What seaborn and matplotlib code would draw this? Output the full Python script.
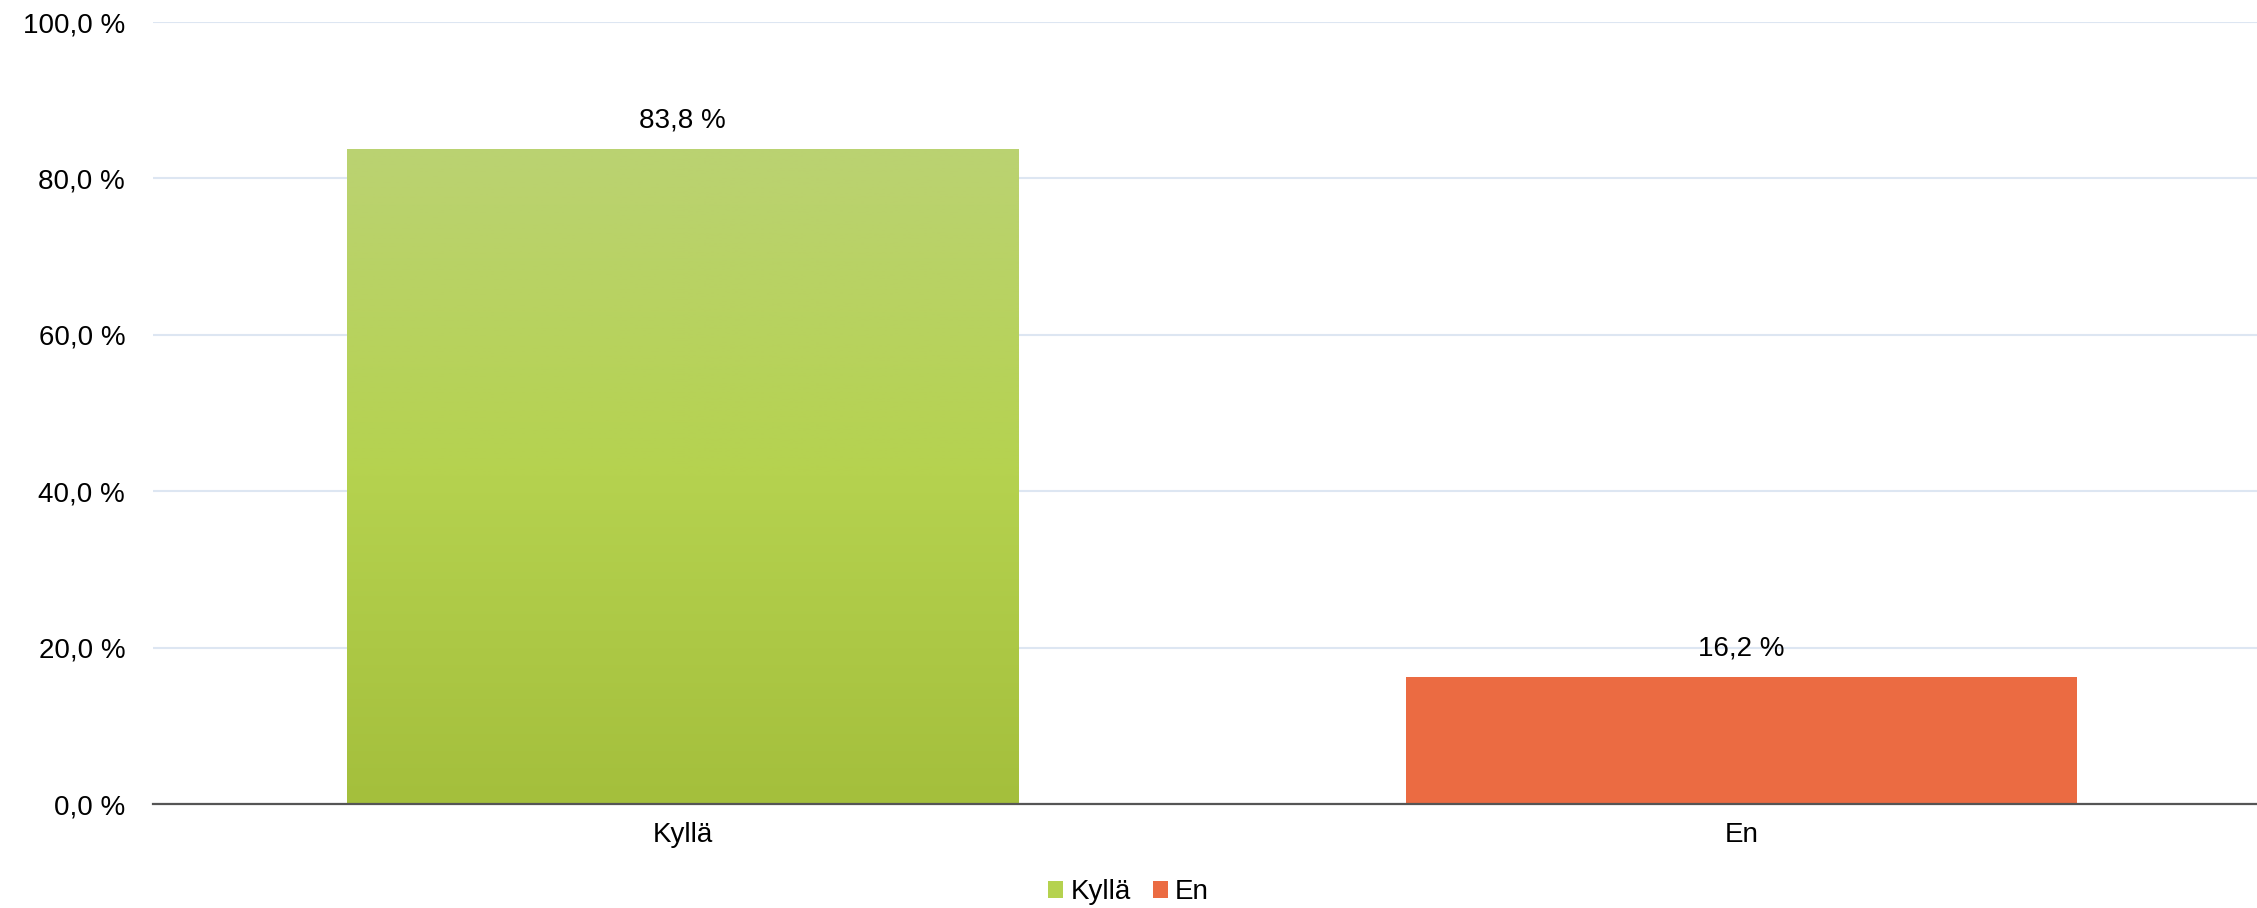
import numpy as np
import pandas as pd
import seaborn as sns
import matplotlib.pyplot as plt
from matplotlib.patches import Patch
from matplotlib.colors import LinearSegmentedColormap

categories = ['Kyllä', 'En']
values = [83.8, 16.2]
value_labels = ['83,8 %', '16,2 %']
y_ticks = [0, 20, 40, 60, 80, 100]
y_tick_labels = ['0,0 %', '20,0 %', '40,0 %', '60,0 %', '80,0 %', '100,0 %']
colors = ['#B5D24F', '#EB6B42']

sns.set_style('white')
plt.rcParams['font.family'] = ['Liberation Sans', 'DejaVu Sans']
plt.rcParams['text.color'] = 'black'
plt.rcParams['xtick.color'] = 'black'
plt.rcParams['ytick.color'] = 'black'

df = pd.DataFrame({'cat': categories, 'val': values})

W, H = 2257, 908
fig = plt.figure(figsize=(W / 100, H / 100), dpi=100)
# axes runs a little past the right edge, like the original
ax = fig.add_axes([153 / W, (H - 804) / H, 2118 / W, 782 / H])

sns.barplot(data=df, x='cat', y='val', hue='cat', palette=colors, saturation=1,
            width=0.634, legend=False, ax=ax, zorder=2, linewidth=0)

# green bar gets a vertical gradient like the original
green = LinearSegmentedColormap.from_list('g', ['#A4BF3C', '#B5D24F', '#BBD272'])
bar = ax.patches[0]
x0, y0 = bar.get_x(), bar.get_y()
w, h = bar.get_width(), bar.get_height()
grad = np.linspace(0, 1, 256).reshape(-1, 1)
im = ax.imshow(grad, cmap=green, origin='lower', aspect='auto',
               extent=[x0, x0 + w, y0, y0 + h], zorder=3)
im.set_clip_path(bar)
ax.set_xlim(-0.5, 1.5)
ax.set_ylim(0, 100)

fs = 20
for i, (v, lab) in enumerate(zip(values, value_labels)):
    ax.text(i, v + 2.0, lab, ha='center', va='bottom', fontsize=fs, zorder=4)

ax.set_yticks(y_ticks)
ax.set_yticklabels(y_tick_labels, fontsize=fs)
ax.tick_params(axis='x', labelsize=fs, pad=13, length=0)
ax.tick_params(axis='y', length=0, pad=20)
ax.set_xlabel('')
ax.set_ylabel('')
ax.yaxis.grid(True, color='#DDE6F2', linewidth=1.5, zorder=0)
ax.set_axisbelow(True)
for s in ['top', 'right', 'left']:
    ax.spines[s].set_visible(False)
ax.spines['bottom'].set_color('#555555')
ax.spines['bottom'].set_linewidth(1.6)
ax.spines['bottom'].set_zorder(5)

handles = [Patch(facecolor=c, edgecolor='none') for c in colors]
fig.legend(handles, categories, loc='center', bbox_to_anchor=(0.5, 1 - 892 / H),
           ncol=2, frameon=False, fontsize=fs, handlelength=0.55, handleheight=0.55,
           handletextpad=0.25, columnspacing=0.8)

fig.savefig('out.png', dpi=100)
